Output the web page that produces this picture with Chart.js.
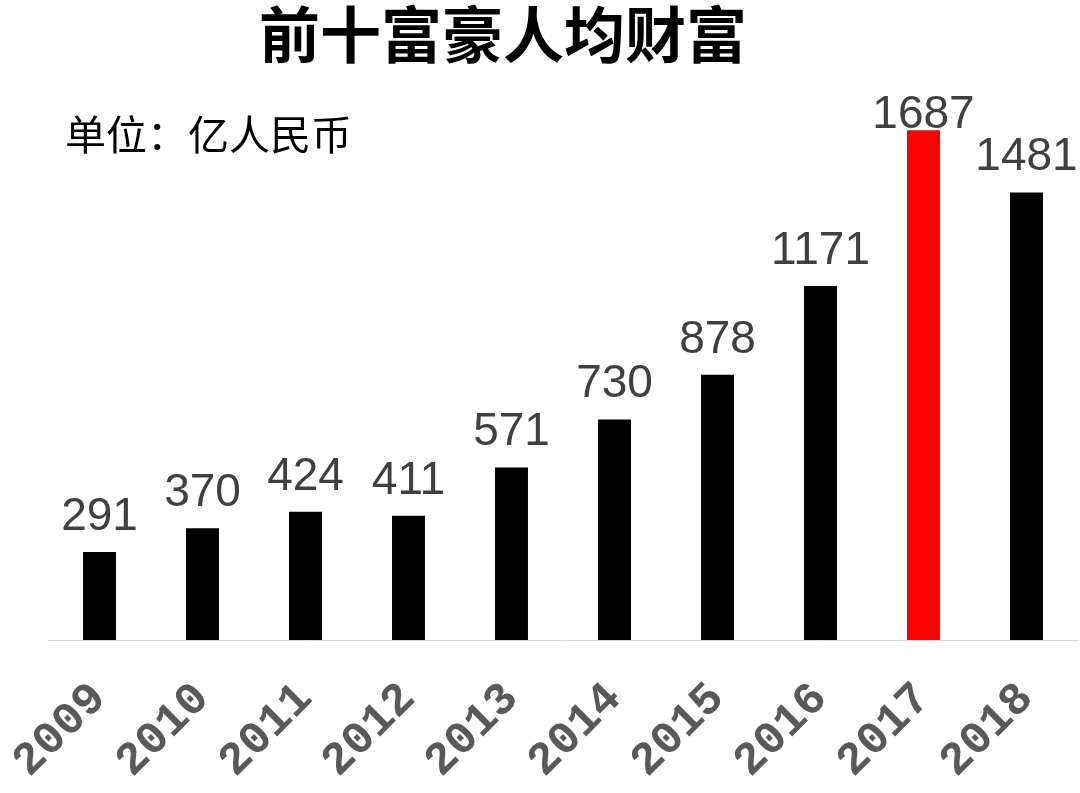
<!DOCTYPE html>
<html>
<head>
<meta charset="utf-8">
<script src="https://cdn.jsdelivr.net/npm/chart.js@4"></script>
<style>
  html, body { margin: 0; padding: 0; background: #fff; }
  #wrap { width: 1080px; height: 793px; position: relative; }
</style>
</head>
<body>
<div id="wrap"><canvas id="chart"></canvas></div>
<script>
const years = ['2009', '2010', '2011', '2012', '2013', '2014', '2015', '2016', '2017', '2018'];
const wealth = [291, 370, 424, 411, 571, 730, 878, 1171, 1687, 1481];
const highlightYear = '2017';
const titleText = '前十富豪人均财富';
const unitText = '单位：亿人民币';

const FONT = "'Liberation Sans', 'Noto Sans CJK SC', sans-serif";

// value labels sit ~22px above the bar, but never above the plot area
const valueLabels = {
  id: 'valueLabels',
  afterDatasetsDraw(chart) {
    const ctx = chart.ctx;
    const area = chart.chartArea;
    const meta = chart.getDatasetMeta(0);
    ctx.save();
    ctx.font = `46px ${FONT}`;
    ctx.fillStyle = '#404040';
    ctx.textAlign = 'center';
    ctx.textBaseline = 'alphabetic';
    meta.data.forEach((bar, i) => {
      const base = Math.max(bar.y - 22, area.top + 32);
      ctx.fillText(String(wealth[i]), bar.x, base);
    });
    ctx.restore();
  }
};

const headerText = {
  id: 'headerText',
  afterDraw(chart) {
    const ctx = chart.ctx;
    const area = chart.chartArea;
    ctx.save();
    ctx.fillStyle = '#000';
    ctx.textBaseline = 'middle';
    ctx.textAlign = 'center';
    ctx.font = `bold 61px 'Noto Sans CJK SC', sans-serif`;
    ctx.fillText(titleText, 503, 35);
    ctx.textAlign = 'left';
    ctx.font = `41px 'Noto Sans CJK SC', ${FONT}`;
    ctx.fillText(unitText, area.left + 17, area.top + 38);
    ctx.restore();
  }
};

new Chart(document.getElementById('chart'), {
  type: 'bar',
  data: {
    labels: years,
    datasets: [{
      data: wealth,
      backgroundColor: ctx => years[ctx.dataIndex] === highlightYear ? '#ff0000' : '#000000',
      barPercentage: 0.32,
      categoryPercentage: 1
    }]
  },
  options: {
    responsive: true,
    maintainAspectRatio: false,
    animation: false,
    layout: { padding: { left: 48, right: 2, top: 96, bottom: 0 } },
    plugins: {
      legend: { display: false },
      tooltip: { enabled: false }
    },
    scales: {
      x: {
        grid: { display: false },
        border: { color: '#d9d9d9', width: 1 },
        ticks: {
          color: '#595959',
          font: { family: "'Liberation Mono', monospace", size: 46, weight: 'bold' },
          minRotation: 45,
          maxRotation: 45,
          padding: 24
        },
        afterFit(scale) {
          scale.height = 153;
          scale.paddingLeft = 0;
          scale.paddingRight = 0;
        }
      },
      y: {
        display: false,
        min: 0,
        max: 1800
      }
    }
  },
  plugins: [valueLabels, headerText]
});
</script>
</body>
</html>
